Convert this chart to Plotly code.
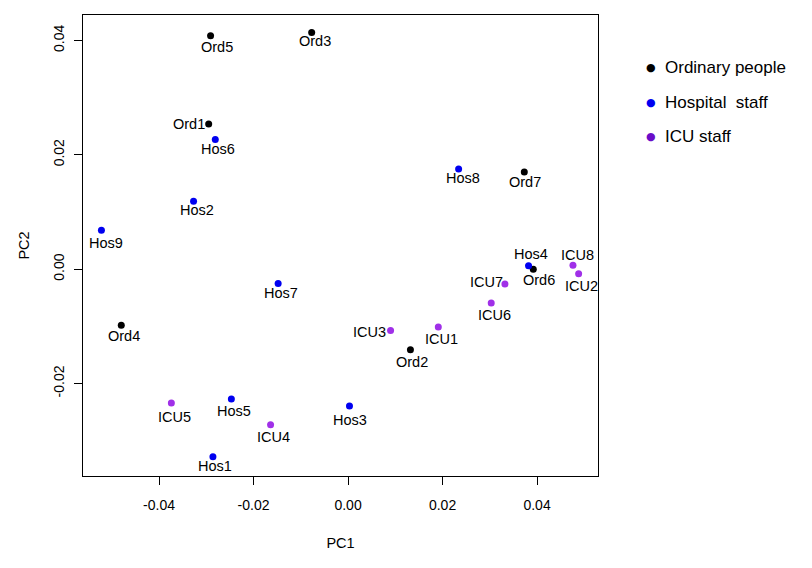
import plotly.graph_objects as go

# ---- data ----
ord_labels = ["Ord1", "Ord2", "Ord3", "Ord4", "Ord5", "Ord6", "Ord7"]
ord_pc1 = [-0.0295, 0.0132, -0.0077, -0.0480, -0.0291, 0.0392, 0.0373]
ord_pc2 = [0.0254, -0.0141, 0.0414, -0.0098, 0.0408, 0.0000, 0.0170]

hos_labels = ["Hos1", "Hos2", "Hos3", "Hos4", "Hos5", "Hos6", "Hos7", "Hos8", "Hos9"]
hos_pc1 = [-0.0286, -0.0327, 0.0003, 0.0382, -0.0247, -0.0281, -0.0148, 0.0234, -0.0522]
hos_pc2 = [-0.0328, 0.0119, -0.0239, 0.0006, -0.0227, 0.0227, -0.0025, 0.0175, 0.0068]

icu_labels = ["ICU1", "ICU2", "ICU3", "ICU4", "ICU5", "ICU6", "ICU7", "ICU8"]
icu_pc1 = [0.0191, 0.0488, 0.0090, -0.0164, -0.0374, 0.0303, 0.0332, 0.0476]
icu_pc2 = [-0.0101, -0.0008, -0.0107, -0.0272, -0.0234, -0.0059, -0.0026, 0.0007]

legend_names = ["Ordinary people", "Hospital  staff", "ICU staff"]

x_ticks = [-0.04, -0.02, 0.00, 0.02, 0.04]
x_tick_text = ["-0.04", "-0.02", "0.00", "0.02", "0.04"]
y_ticks = [-0.02, 0.00, 0.02, 0.04]
y_tick_text = ["-0.02", "0.00", "0.02", "0.04"]

# ---- layout/style (label offsets in pixels: dx, dy with +dy = up) ----
label_offsets = {
    "Ord1": (-20, 0), "Ord2": (2, -12), "Ord3": (3, -9), "Ord4": (3, -11),
    "Ord5": (6, -11), "Ord6": (6, -11), "Ord7": (1, -10),
    "Hos1": (2, -9), "Hos2": (3, -9), "Hos3": (1, -14), "Hos4": (2, 12),
    "Hos5": (3, -12), "Hos6": (3, -10), "Hos7": (3, -9), "Hos8": (4, -9),
    "Hos9": (5, -13),
    "ICU1": (3, -12), "ICU2": (3, -12), "ICU3": (-21, -2), "ICU4": (3, -12),
    "ICU5": (3, -14), "ICU6": (3, -12), "ICU7": (-18, 2), "ICU8": (5, 10),
}

FONT = "Liberation Sans, Arial, sans-serif"
groups = [
    (ord_labels, ord_pc1, ord_pc2, "#000000", "#000000"),
    (hos_labels, hos_pc1, hos_pc2, "#0000F0", "#0000F0"),
    (icu_labels, icu_pc1, icu_pc2, "#A030E8", "#6A0CC8"),
]

fig = go.Figure()
annotations = []
for (labels, xs, ys, col, legcol), name in zip(groups, legend_names):
    fig.add_trace(go.Scatter(
        x=xs, y=ys, mode="markers", name=name, showlegend=False,
        marker=dict(color=col, size=7, line=dict(width=0)),
        text=labels, hoverinfo="text+x+y",
    ))
    for lab, x, y in zip(labels, xs, ys):
        dx, dy = label_offsets[lab]
        annotations.append(dict(
            x=x, y=y, xref="x", yref="y", text=lab, showarrow=False,
            xshift=dx, yshift=dy, font=dict(family=FONT, size=14.5, color="#000000"),
        ))

# custom legend (outside plot, right side)
legend_colors = [g[4] for g in groups]
legend_y = [0.886, 0.810, 0.736]
for name, col, ly in zip(legend_names, legend_colors, legend_y):
    annotations.append(dict(
        x=1.126, y=ly, xref="paper", yref="paper", text=name, showarrow=False,
        xanchor="left", yanchor="middle",
        font=dict(family=FONT, size=17, color="#000000"),
    ))
    annotations.append(dict(
        x=1.103, y=ly, xref="paper", yref="paper", text="●", showarrow=False,
        xanchor="center", yanchor="middle",
        font=dict(family="DejaVu Sans", size=11, color=col),
    ))

# page body has an 8px margin, so the figure is 8px smaller and margins shifted
fig.update_layout(
    width=804, height=560,
    paper_bgcolor="white", plot_bgcolor="white",
    margin=dict(l=75, r=214, t=7, b=92),
    font=dict(family=FONT, size=14, color="#000000"),
    annotations=annotations,
    showlegend=False,
)
fig.update_xaxes(
    range=[-0.0561, 0.0529], showgrid=False, zeroline=False,
    tickmode="array", tickvals=x_ticks, ticktext=x_tick_text,
    ticks="outside", ticklen=8, tickwidth=1, tickcolor="#000000",
    showline=True, linecolor="#000000", linewidth=1, mirror=True,
    tickfont=dict(size=14), ticklabelstandoff=8,
    title=dict(text="PC1", font=dict(size=14.5), standoff=26),
)
fig.update_yaxes(
    range=[-0.03616, 0.04445], showgrid=False, zeroline=False,
    tickmode="array", tickvals=y_ticks, ticktext=y_tick_text,
    ticks="outside", ticklen=8, tickwidth=1, tickcolor="#000000",
    showline=True, linecolor="#000000", linewidth=1, mirror=True,
    tickangle=-90, tickfont=dict(size=14), ticklabelstandoff=4,
    title=dict(text="PC2", font=dict(size=14.5), standoff=18),
)

fig.write_html("out.html")
